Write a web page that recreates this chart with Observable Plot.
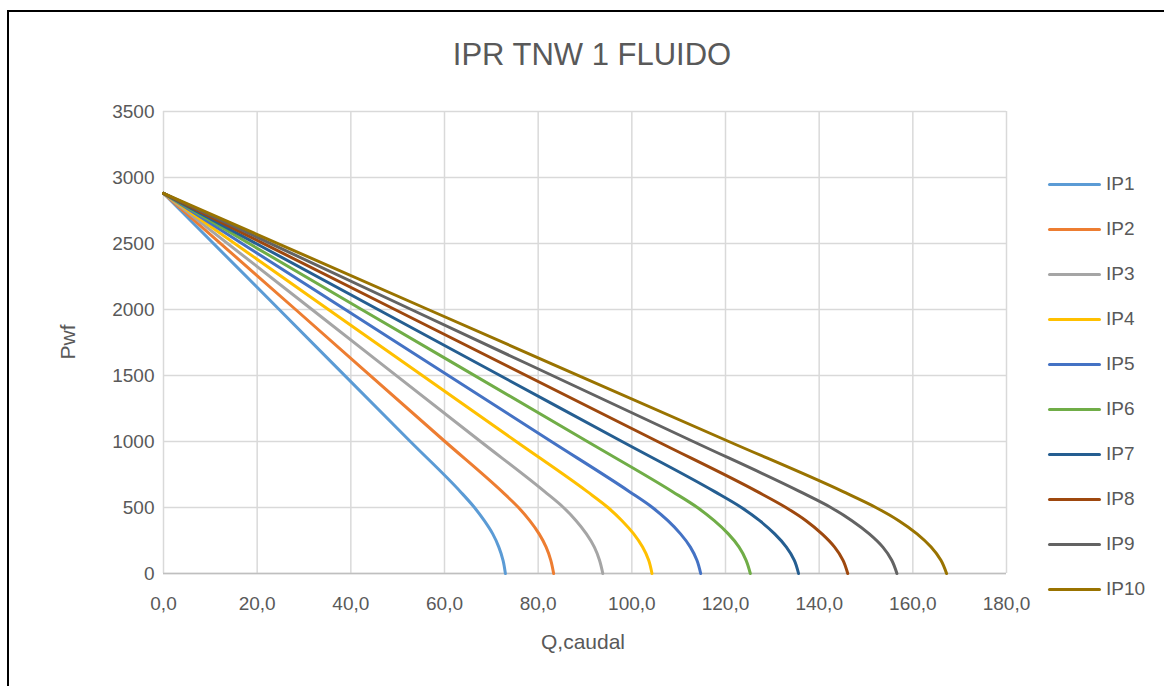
<!DOCTYPE html>
<html>
<head>
<meta charset="utf-8">
<script src="https://cdn.jsdelivr.net/npm/d3@7"></script>
<script src="https://cdn.jsdelivr.net/npm/@observablehq/plot@0.6"></script>
<style>
  html, body { margin: 0; padding: 0; background: #fff; }
  body { width: 1164px; height: 686px; position: relative; overflow: hidden;
         font-family: "Liberation Sans", Arial, sans-serif; color: #595959; }
  #frame { position: absolute; left: 7px; top: 10px; width: 1170px; height: 700px;
           border-top: 2px solid #000; border-left: 2px solid #000; }
  #title { position: absolute; left: 0; width: 1184px; top: 37px; text-align: center;
           font-size: 31px; color: #595959; }
  #chart { position: absolute; left: 0; top: 0; }
  #legend { position: absolute; left: 1048px; top: 172px; }
  .item { height: 45px; display: flex; align-items: flex-start; }
  .sw { width: 53px; height: 3px; border-radius: 2px; margin-top: 11px; margin-right: 5px; }
  .lab { font-size: 19px; line-height: 24px; color: #595959; }
  .axt { position: absolute; font-size: 21px; color: #595959; }
</style>
</head>
<body>
<div id="frame"></div>
<div id="title">IPR TNW 1 FLUIDO</div>
<div id="chart"></div>
<div id="legend"></div>
<div class="axt" id="ytitle" style="left:50px; top:330px; transform: rotate(-90deg); transform-origin: center;">Pwf</div>
<div class="axt" id="xtitle" style="left:0; width:1166px; text-align:center; top:630px;">Q,caudal</div>
<script>
// Pressure levels (Pwf) at which flow rates were read
const pwf = [0, 100, 200, 300, 400, 500, 620, 1000, 2000, 2880];

const seriesNames = ["IP1", "IP2", "IP3", "IP4", "IP5", "IP6", "IP7", "IP8", "IP9", "IP10"];
const seriesColors = ["#5B9BD5", "#ED7D31", "#A5A5A5", "#FFC000", "#4472C4", "#70AD47", "#255E91", "#9E480E", "#636363", "#997300"];

// Q, caudal values for each series at the Pwf levels above
const qIP1  = [73.0, 72.5, 71.6, 70.3, 68.5, 66.4, 63.4, 52.7, 24.7, 0];
const qIP2  = [83.3, 82.7, 81.7, 80.2, 78.2, 75.8, 72.3, 60.1, 28.2, 0];
const qIP3  = [93.8, 93.1, 92.0, 90.3, 88.1, 85.4, 81.4, 67.7, 31.7, 0];
const qIP4  = [104.3, 103.6, 102.3, 100.4, 97.9, 94.9, 90.5, 75.3, 35.2, 0];
const qIP5  = [114.7, 113.9, 112.5, 110.4, 107.7, 104.4, 99.5, 82.8, 38.8, 0];
const qIP6  = [125.3, 124.4, 122.9, 120.6, 117.6, 114.0, 108.7, 90.5, 42.3, 0];
const qIP7  = [135.6, 134.7, 133.0, 130.5, 127.3, 123.4, 117.7, 97.9, 45.8, 0];
const qIP8  = [146.1, 145.1, 143.3, 140.6, 137.2, 132.9, 126.8, 105.5, 49.4, 0];
const qIP9  = [156.6, 155.5, 153.6, 150.7, 147.0, 142.5, 135.9, 113.1, 52.9, 0];
const qIP10 = [167.2, 166.0, 163.9, 160.9, 157.0, 152.1, 145.1, 120.7, 56.5, 0];

const xTicks = [0, 20, 40, 60, 80, 100, 120, 140, 160, 180];
const yTicks = [0, 500, 1000, 1500, 2000, 2500, 3000, 3500];

const allQ = [qIP1, qIP2, qIP3, qIP4, qIP5, qIP6, qIP7, qIP8, qIP9, qIP10];
const rows = [];
seriesNames.forEach((name, i) => {
  allQ[i].forEach((q, j) => rows.push({series: name, q, p: pwf[j]}));
});

const fmtX = d => d.toFixed(1).replace(".", ",");

const plot = Plot.plot({
  width: 1164,
  height: 686,
  marginLeft: 163,
  marginRight: 158,
  marginTop: 111,
  marginBottom: 113,
  style: {fontFamily: "'Liberation Sans', Arial, sans-serif", color: "#595959", background: "transparent"},
  x: {domain: [0, 180]},
  y: {domain: [0, 3500]},
  color: {domain: seriesNames, range: seriesColors},
  marks: [
    Plot.gridX(xTicks, {stroke: "#d9d9d9", strokeOpacity: 1, strokeWidth: 1.5}),
    Plot.gridY(yTicks, {stroke: "#d9d9d9", strokeOpacity: 1, strokeWidth: 1.5}),
    Plot.ruleY([0], {stroke: "#bfbfbf", strokeWidth: 1.5}),
    Plot.axisX(xTicks, {tickSize: 0, tickPadding: 23, fontSize: 19, tickFormat: fmtX, label: null, fill: "#595959"}),
    Plot.axisY(yTicks, {tickSize: 0, tickPadding: 9, fontSize: 19, tickFormat: d => String(d), label: null, fill: "#595959"}),
    Plot.line(rows, {x: "q", y: "p", z: "series", stroke: "series", strokeWidth: 3, curve: "monotone-y"})
  ]
});
document.getElementById("chart").appendChild(plot);

const legend = document.getElementById("legend");
seriesNames.forEach((name, i) => {
  const it = document.createElement("div");
  it.className = "item";
  it.innerHTML = `<div class="sw" style="background:${seriesColors[i]}"></div><div class="lab">${name}</div>`;
  legend.appendChild(it);
});
</script>
</body>
</html>
